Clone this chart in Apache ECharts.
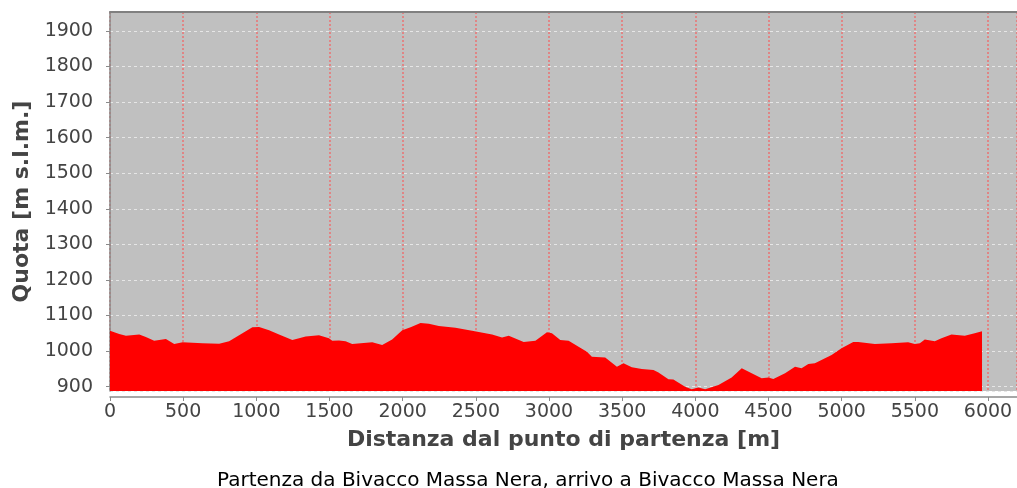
<!DOCTYPE html>
<html>
<head>
<meta charset="utf-8">
<script src="https://cdn.jsdelivr.net/npm/echarts@6/dist/echarts.min.js"></script>
<style>
  html, body { margin: 0; padding: 0; background: #fff; }
  #chart { width: 1017px; height: 488px; }
</style>
</head>
<body>
<div id="chart"></div>
<script>
// distance from start [m]
const distances = [0, 63, 109, 200, 245, 302, 382, 439, 496, 632, 746, 814, 905, 973, 1019, 1087, 1155, 1246, 1292, 1337, 1428, 1496, 1519, 1565, 1610, 1655, 1792, 1860, 1928, 1997, 2054, 2122, 2179, 2247, 2361, 2474, 2611, 2679, 2725, 2827, 2907, 2986, 3020, 3077, 3134, 3202, 3259, 3293, 3384, 3464, 3509, 3566, 3634, 3714, 3748, 3816, 3850, 3930, 3975, 4021, 4067, 4158, 4248, 4317, 4385, 4453, 4499, 4533, 4613, 4681, 4726, 4772, 4817, 4886, 4931, 4999, 5079, 5113, 5227, 5340, 5454, 5500, 5534, 5568, 5636, 5682, 5750, 5841, 5909, 5959];
// altitude [m s.l.m.]
const altitudes = [1057, 1048, 1043, 1047, 1040, 1029, 1034, 1020, 1025, 1022, 1021, 1028, 1050, 1067, 1068, 1059, 1047, 1031, 1036, 1041, 1045, 1036, 1029, 1030, 1028, 1020, 1025, 1017, 1033, 1059, 1067, 1079, 1077, 1071, 1066, 1057, 1047, 1038, 1043, 1026, 1029, 1053, 1050, 1031, 1029, 1012, 998, 984, 982, 956, 966, 955, 950, 947, 940, 921, 920, 900, 893, 898, 893, 905, 926, 952, 938, 924, 926, 922, 938, 956, 952, 964, 966, 980, 989, 1008, 1026, 1026, 1020, 1022, 1025, 1020, 1022, 1033, 1028, 1036, 1047, 1043, 1050, 1056];

const xTitle = 'Distanza dal punto di partenza [m]';
const yTitle = 'Quota [m s.l.m.]';
const subtitle = 'Partenza da Bivacco Massa Nera, arrivo a Bivacco Massa Nera';

const font = 'DejaVu Sans';
const profile = distances.map((d, i) => [d, altitudes[i]]);
const plain = (v) => String(Math.round(v));

const chart = echarts.init(document.getElementById('chart'));
chart.setOption({
  animation: false,
  title: {
    text: subtitle,
    left: 212,
    top: 466,
    textStyle: { fontFamily: font, fontSize: 20, fontWeight: 'normal', color: '#000' }
  },
  grid: {
    left: 110, right: -2, top: 12, bottom: 97,
    show: true, backgroundColor: '#c0c0c0', borderWidth: 0
  },
  xAxis: [{
    type: 'value',
    min: 0, max: 6198, interval: 500,
    offset: 6,
    name: xTitle,
    nameLocation: 'middle',
    nameGap: 32,
    nameTextStyle: { fontFamily: font, fontSize: 22, fontWeight: 'bold', color: '#444' },
    axisLine: { show: true, lineStyle: { color: '#8a8a8a', width: 1.5 } },
    axisTick: { show: true, length: 4, lineStyle: { color: '#8a8a8a' } },
    axisLabel: { fontFamily: font, fontSize: 19, color: '#444', margin: 6, showMaxLabel: false, formatter: plain },
    splitLine: { show: true, lineStyle: { color: '#ea7272', type: [2, 2], width: 1.5 } }
  }, {
    type: 'value', position: 'top',
    min: 0, max: 6198,
    axisLine: { show: true, lineStyle: { color: '#808080', width: 2 } },
    axisTick: { show: false }, axisLabel: { show: false }, splitLine: { show: false }
  }],
  yAxis: {
    type: 'value',
    min: 888, max: 1953,
    splitNumber: 10,
    offset: 6,
    name: yTitle,
    nameLocation: 'middle',
    nameGap: 69,
    nameTextStyle: { fontFamily: font, fontSize: 22, fontWeight: 'bold', color: '#444' },
    axisLine: { show: true, lineStyle: { color: '#8a8a8a', width: 1.5 } },
    axisTick: { show: true, length: 4, lineStyle: { color: '#8a8a8a' } },
    axisLabel: { fontFamily: font, fontSize: 19, color: '#444', margin: 11, showMinLabel: false, showMaxLabel: false, formatter: plain },
    splitLine: { show: true, lineStyle: { color: '#e6e6e6', type: [3, 3], width: 1 } }
  },
  series: [{
    type: 'line',
    data: profile,
    showSymbol: false,
    lineStyle: { width: 0, color: '#ff0000' },
    itemStyle: { color: '#ff0000' },
    areaStyle: { color: '#ff0000', opacity: 1, origin: 'start' }
  }]
});
</script>
</body>
</html>
